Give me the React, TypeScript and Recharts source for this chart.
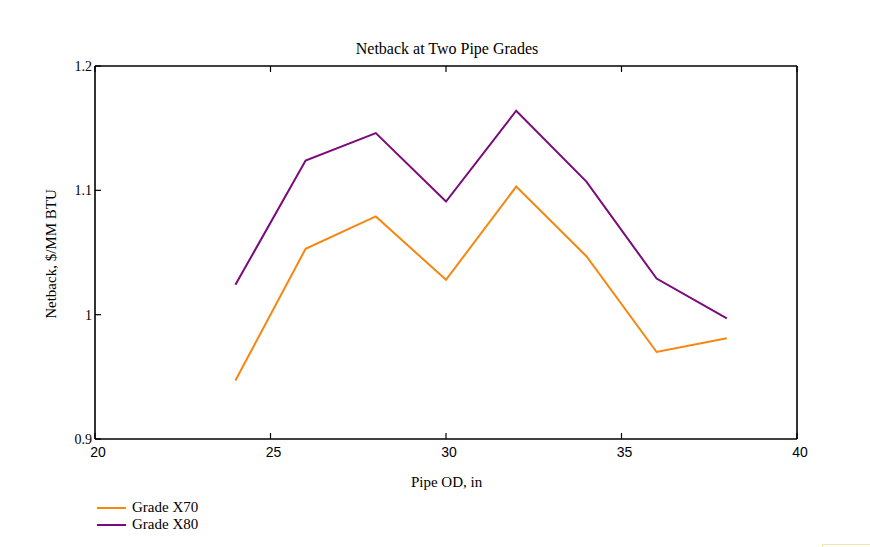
import React from "react";
import { LineChart, Line, XAxis, YAxis } from "recharts";

const pipeOD = [24, 26, 28, 30, 32, 34, 36, 38];
const gradeX70 = [0.947, 1.053, 1.079, 1.028, 1.103, 1.047, 0.97, 0.981];
const gradeX80 = [1.024, 1.124, 1.146, 1.091, 1.164, 1.107, 1.029, 0.997];
const xTicks = [20, 25, 30, 35, 40];
const yTicks = [0.9, 1, 1.1, 1.2];
const seriesNames = ["Grade X70", "Grade X80"];
const seriesColors = ["#F7860F", "#7B0A7B"];

const data = pipeOD.map((od, i) => ({ od, x70: gradeX70[i], x80: gradeX80[i] }));

const serif = "'Liberation Serif', 'Times New Roman', serif";
const TICK = 6;

// ticks drawn inward, labels outside
const LeftTick = (props: any) => {
  const { x, y, payload } = props;
  return (
    <g>
      <line x1={x} y1={y} x2={x + TICK} y2={y} stroke="#000" strokeWidth={1.2} />
      <text x={x - 3} y={y} dy={5} textAnchor="end" fontSize={14} fontFamily={serif} fill="#000">
        {payload.value}
      </text>
    </g>
  );
};

const RightTick = (props: any) => {
  const { x, y } = props;
  return <line x1={x} y1={y} x2={x - TICK} y2={y} stroke="#000" strokeWidth={1.2} />;
};

const BottomTick = (props: any) => {
  const { x, y, payload } = props;
  return (
    <g>
      <line x1={x} y1={y} x2={x} y2={y - TICK} stroke="#000" strokeWidth={1.2} />
      <text x={x + 3} y={y + 18} textAnchor="middle" fontSize={14} fontFamily="'Liberation Sans', Arial, sans-serif" fill="#000">
        {payload.value}
      </text>
    </g>
  );
};

const TopTick = (props: any) => {
  const { x, y } = props;
  return <line x1={x} y1={y} x2={x} y2={y + TICK} stroke="#000" strokeWidth={1.2} />;
};

export default function App() {
  return (
    <div style={{ position: "absolute", left: 0, top: 0, width: 870, height: 547, background: "#fff", fontFamily: serif }}>
      <div style={{ position: "absolute", left: 0, width: 894, top: 40, textAlign: "center", fontSize: 16 }}>
        Netback at Two Pipe Grades
      </div>
      <div
        style={{
          position: "absolute",
          left: 51,
          top: 254,
          transform: "translate(-50%, -50%) rotate(-90deg)",
          whiteSpace: "nowrap",
          fontSize: 15,
        }}
      >
        Netback, $/MM BTU
      </div>
      <div style={{ position: "absolute", left: 0, width: 893, top: 474, textAlign: "center", fontSize: 15 }}>
        Pipe OD, in
      </div>
      <LineChart
        width={870}
        height={547}
        data={data}
        margin={{ top: 65, right: 72, bottom: 78, left: 55 }}
      >
        <XAxis
          xAxisId="b"
          dataKey="od"
          type="number"
          domain={[20, 40]}
          ticks={xTicks}
          height={30}
          tick={<BottomTick />}
          tickSize={0}
          tickMargin={0}
          tickLine={false}
          axisLine={{ stroke: "#000", strokeWidth: 1.6 }}
        />
        <XAxis
          xAxisId="t"
          orientation="top"
          dataKey="od"
          type="number"
          domain={[20, 40]}
          ticks={xTicks}
          height={1}
          tick={<TopTick />}
          tickSize={0}
          tickMargin={0}
          tickLine={false}
          axisLine={{ stroke: "#000", strokeWidth: 1.6 }}
        />
        <YAxis
          yAxisId="l"
          type="number"
          domain={[0.9, 1.2]}
          ticks={yTicks}
          width={40}
          tick={<LeftTick />}
          tickSize={0}
          tickMargin={0}
          tickLine={false}
          axisLine={{ stroke: "#000", strokeWidth: 1.6 }}
        />
        <YAxis
          yAxisId="r"
          orientation="right"
          type="number"
          domain={[0.9, 1.2]}
          ticks={yTicks}
          width={1}
          tick={<RightTick />}
          tickSize={0}
          tickMargin={0}
          tickLine={false}
          axisLine={{ stroke: "#000", strokeWidth: 1.6 }}
        />
        <Line
          xAxisId="b"
          yAxisId="l"
          dataKey="x70"
          name={seriesNames[0]}
          stroke={seriesColors[0]}
          strokeWidth={2}
          dot={false}
          isAnimationActive={false}
        />
        <Line
          xAxisId="b"
          yAxisId="l"
          dataKey="x80"
          name={seriesNames[1]}
          stroke={seriesColors[1]}
          strokeWidth={2}
          dot={false}
          isAnimationActive={false}
        />
      </LineChart>
      <div style={{ position: "absolute", left: 97, top: 499, fontSize: 15 }}>
        {seriesNames.map((name, i) => (
          <div key={name} style={{ display: "flex", alignItems: "center", height: 17 }}>
            <span style={{ display: "inline-block", width: 29, height: 2, background: seriesColors[i], marginRight: 6 }} />
            <span>{name}</span>
          </div>
        ))}
      </div>
      <div style={{ position: "absolute", left: 822, top: 544, width: 48, height: 3, borderTop: "1px solid #f3e6a0", borderLeft: "1px solid #f3e6a0" }} />
    </div>
  );
}
